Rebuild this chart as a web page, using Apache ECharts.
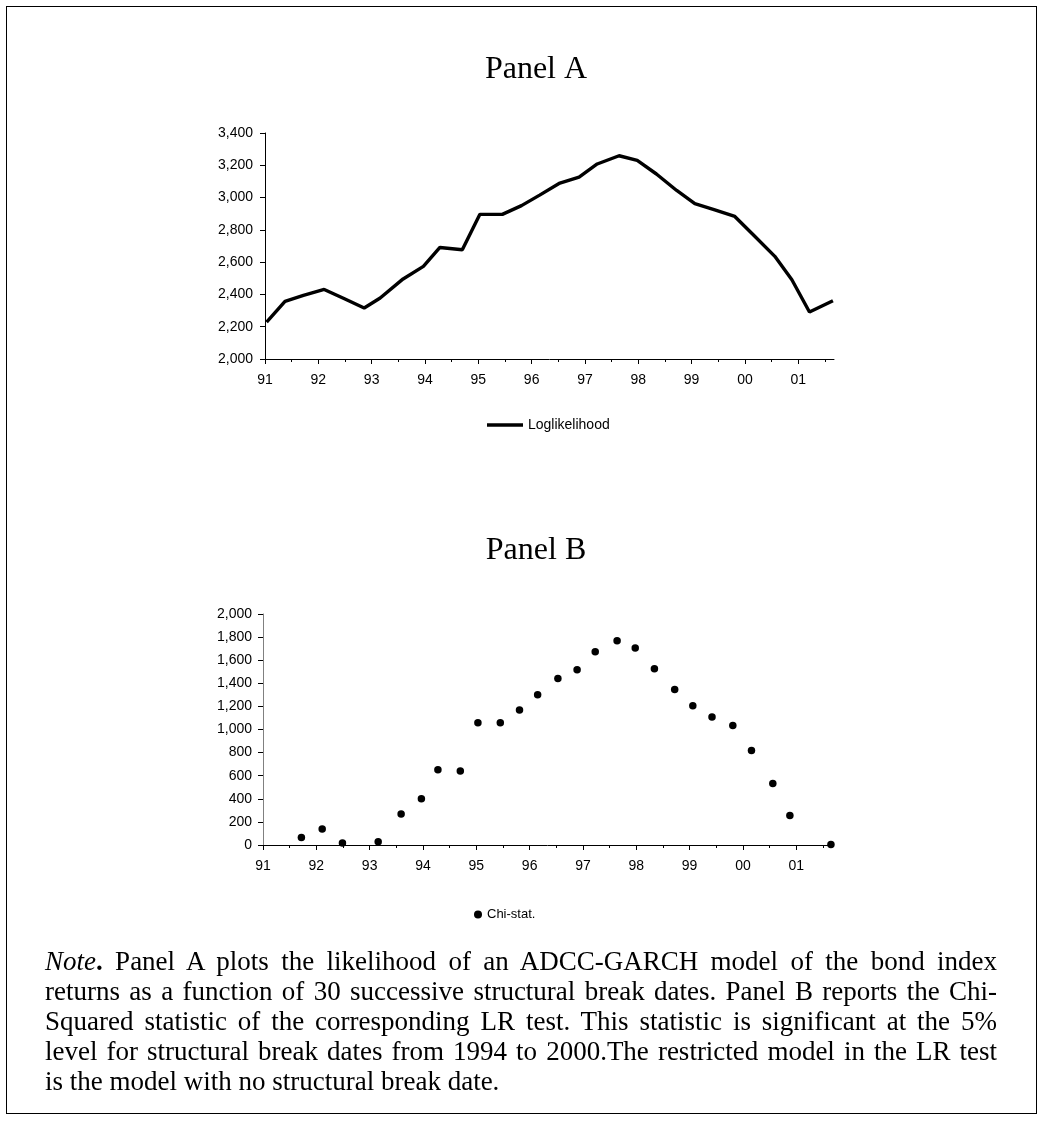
<!DOCTYPE html>
<html>
<head>
<meta charset="utf-8">
<script src="https://cdn.jsdelivr.net/npm/echarts@6/dist/echarts.min.js"></script>
<style>
  body { margin: 0; background: #fff; }
  #frame { position: absolute; left: 6px; top: 6px; width: 1029px; height: 1106px; border: 1px solid #000; }
  #main { position: absolute; left: 0; top: 0; width: 1042px; height: 1136px; }
  #note { position: absolute; left: 45px; top: 946px; width: 952px; font-family: "Liberation Serif", "Times New Roman", serif; font-size: 27px; line-height: 30px; color: #000; }
  #note div { text-align: justify; text-align-last: justify; white-space: nowrap; }
  #note div.last { text-align-last: left; }
</style>
</head>
<body>
<div id="frame"></div>
<div id="main"></div>
<div id="note">
  <div><i>Note</i><b>.</b> Panel A plots the likelihood of an ADCC-GARCH model of the bond index</div>
  <div>returns as a function of 30 successive structural break dates. Panel B reports the Chi-</div>
  <div>Squared statistic of the corresponding LR test. This statistic is significant at the 5%</div>
  <div>level for structural break dates from 1994 to 2000.The restricted model in the LR test</div>
  <div class="last">is the model with no structural break date.</div>
</div>
<script>
// break dates, as fractional years (91 = 1991)
var dates = [91.03, 91.375, 91.72, 92.11, 92.49, 92.86, 93.16, 93.59, 93.97, 94.28,
             94.70, 95.03, 95.45, 95.81, 96.15, 96.53, 96.89, 97.23, 97.64, 97.98,
             98.34, 98.72, 99.06, 99.42, 99.81, 100.16, 100.56, 100.88, 101.21, 101.65];
var loglik = [2229, 2357, 2394, 2431, 2373, 2316, 2378, 2496, 2574, 2691,
              2677, 2896, 2896, 2950, 3015, 3090, 3127, 3208, 3259, 3230,
              3146, 3044, 2962, 2925, 2883, 2768, 2636, 2491, 2291, 2361];
var chistat = [null, null, 66, 139, 17, null, 29, 268, 401, 652,
               641, 1059, 1059, 1169, 1301, 1442, 1518, 1674, 1769, 1706,
               1526, 1347, 1206, 1108, 1035, 819, 533, 256, null, 5];
var yearTicks = [91, 92, 93, 94, 95, 96, 97, 98, 99, 100, 101];
var halfTicks = [91.5, 92.5, 93.5, 94.5, 95.5, 96.5, 97.5, 98.5, 99.5, 100.5, 101.5];

function pairs(ys) {
  var out = [];
  for (var i = 0; i < dates.length; i++) {
    if (ys[i] != null) out.push([dates[i], ys[i]]);
  }
  return out;
}
function yr(v) { var n = Math.round(v) % 100; return (n < 10 ? '0' : '') + n; }
function thousands(v) { return String(v).replace(/\B(?=(\d{3})+(?!\d))/g, ','); }

var sans = '"Liberation Sans", Arial, sans-serif';
var serif = '"Liberation Serif", "Times New Roman", serif';
var lbl = { color: '#000', fontFamily: sans, fontSize: 14 };

function xMajor(grid) {
  return {
    type: 'value', gridIndex: grid, position: 'bottom', min: 91, max: 101.67,
    axisLine: { show: true, lineStyle: { color: '#000', width: 1 } },
    axisTick: { show: true, length: 5, customValues: yearTicks, lineStyle: { color: '#000' } },
    axisLabel: Object.assign({ customValues: yearTicks, margin: 14, formatter: yr }, lbl),
    splitLine: { show: false }
  };
}
function xMinor(grid) {
  return {
    type: 'value', gridIndex: grid, position: 'bottom', min: 91, max: 101.67,
    axisLine: { show: false },
    axisTick: { show: true, length: 3, customValues: halfTicks, lineStyle: { color: '#000' } },
    axisLabel: { show: false },
    splitLine: { show: false }
  };
}

var chart = echarts.init(document.getElementById('main'));
var option = {
  animation: false,
  backgroundColor: 'transparent',
  title: [
    { text: 'Panel A', left: 531, top: 49, textAlign: 'center',
      textStyle: { fontFamily: serif, fontSize: 32, fontWeight: 'normal', color: '#000' } },
    { text: 'Panel B', left: 531, top: 530, textAlign: 'center',
      textStyle: { fontFamily: serif, fontSize: 32, fontWeight: 'normal', color: '#000' } }
  ],
  legend: [
    { data: ['Loglikelihood'], left: 482, top: 413, icon: 'rect', itemWidth: 36, itemHeight: 3.5, itemGap: 0,
      textStyle: { color: '#000', fontFamily: sans, fontSize: 14 } },
    { data: ['Chi-stat.'], left: 469, top: 903, itemWidth: 8, itemHeight: 8, icon: 'circle',
      textStyle: { color: '#000', fontFamily: sans, fontSize: 13 } }
  ],
  grid: [
    { left: 265, top: 133, width: 569, height: 226 },
    { left: 263, top: 614, width: 569, height: 231 }
  ],
  xAxis: [xMajor(0), xMinor(0), xMajor(1), xMinor(1)],
  yAxis: [
    { type: 'value', gridIndex: 0, min: 2000, max: 3400, interval: 200,
      axisLine: { show: true, lineStyle: { color: '#000' } },
      axisTick: { show: true, length: 5, lineStyle: { color: '#000' } },
      axisLabel: Object.assign({ margin: 12, formatter: thousands }, lbl),
      splitLine: { show: false } },
    { type: 'value', gridIndex: 1, min: 0, max: 2000, interval: 200,
      axisLine: { show: true, lineStyle: { color: '#808080' } },
      axisTick: { show: true, length: 5, lineStyle: { color: '#000' } },
      axisLabel: Object.assign({ margin: 11, formatter: thousands }, lbl),
      splitLine: { show: false } }
  ],
  series: [
    { name: 'Loglikelihood', type: 'line', xAxisIndex: 0, yAxisIndex: 0,
      data: pairs(loglik), symbol: 'none', lineStyle: { color: '#000', width: 3.4 }, itemStyle: { color: '#000' } },
    { name: 'Chi-stat.', type: 'scatter', xAxisIndex: 2, yAxisIndex: 1,
      data: pairs(chistat), symbol: 'circle', symbolSize: 7.5, itemStyle: { color: '#000', opacity: 1 } }
  ]
};
chart.setOption(option);
</script>
</body>
</html>
